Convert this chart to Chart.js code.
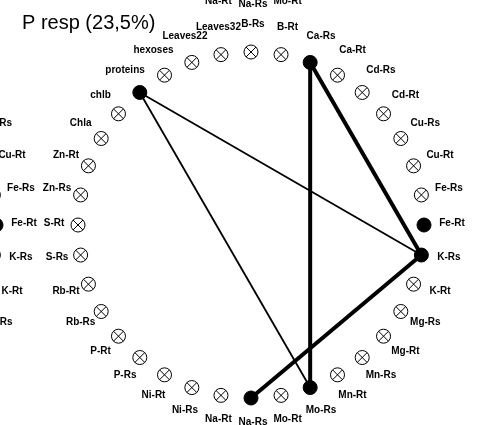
<!DOCTYPE html>
<html>
<head>
<meta charset="utf-8">
<script src="https://cdn.jsdelivr.net/npm/chart.js@4.4.1/dist/chart.umd.min.js"></script>
<style>
  html, body { margin: 0; padding: 0; background: #ffffff; }
  #wrap { width: 482px; height: 425px; position: relative; overflow: hidden; }
  canvas { display: block; }
</style>
</head>
<body>
<div id="wrap"><canvas id="chart" width="482" height="425"></canvas></div>
<script>
// Panel title
const panelTitle = 'P resp (23,5%)';

// Variables placed around the circle, clockwise from the top
const nodes = ['B-Rs', 'B-Rt', 'Ca-Rs', 'Ca-Rt', 'Cd-Rs', 'Cd-Rt', 'Cu-Rs', 'Cu-Rt',
  'Fe-Rs', 'Fe-Rt', 'K-Rs', 'K-Rt', 'Mg-Rs', 'Mg-Rt', 'Mn-Rs', 'Mn-Rt', 'Mo-Rs', 'Mo-Rt',
  'Na-Rs', 'Na-Rt', 'Ni-Rs', 'Ni-Rt', 'P-Rs', 'P-Rt', 'Rb-Rs', 'Rb-Rt', 'S-Rs', 'S-Rt',
  'Zn-Rs', 'Zn-Rt', 'Chla', 'chlb', 'proteins', 'hexoses', 'Leaves22', 'Leaves32'];

// Variables linked to P resp (filled markers)
const significant = ['Ca-Rs', 'Fe-Rt', 'K-Rs', 'Mo-Rs', 'Na-Rs', 'proteins'];

// Correlations between variables
const strongLinks = [['Ca-Rs', 'Mo-Rs'], ['Ca-Rs', 'K-Rs'], ['K-Rs', 'Na-Rs']];
const weakLinks = [['proteins', 'K-Rs'], ['proteins', 'Mo-Rs']];

// Neighbouring panels of the same figure (only their edges show)
const leftPanelSignificant = ['Fe-Rt'];
const topPanelSignificant = [];

// ---- layout (pixels) ----
const W = 482, H = 425;
const CX = 251, CY = 225, R = 173;          // node ring
const LABEL_R = 199, LABEL_DX = 2, LABEL_DY = -2;  // label ring
const STEP = 360 / nodes.length;
const panels = [
  { dx: 0, dy: 0, sig: significant, links: true },
  { dx: -428, dy: 0, sig: leftPanelSignificant, links: false },
  { dx: 0, dy: -418, sig: topPanelSignificant, links: false }
];

const DEG = Math.PI / 180;
function angleOf(name) { return (90 - nodes.indexOf(name) * STEP) * DEG; }
// node position in ring units (radius 1, y up), shifted by panel offset
function nodePos(name, p) {
  const a = angleOf(name);
  return { x: Math.cos(a) + p.dx / R, y: Math.sin(a) - p.dy / R };
}

const datasets = [];
panels.forEach(p => {
  const open = nodes.filter(n => !p.sig.includes(n)).map(n => nodePos(n, p));
  const filled = nodes.filter(n => p.sig.includes(n)).map(n => nodePos(n, p));
  datasets.push({ data: open, pointStyle: 'circle', pointRadius: 7, pointBackgroundColor: '#ffffff',
    pointBorderColor: '#000000', pointBorderWidth: 1, showLine: false, order: 1 });
  datasets.push({ data: open, pointStyle: 'crossRot', pointRadius: 7,
    pointBorderColor: '#000000', pointBorderWidth: 1, showLine: false, order: 0 });
  datasets.push({ data: filled, pointStyle: 'circle', pointRadius: 7, pointBackgroundColor: '#000000',
    pointBorderColor: '#000000', pointBorderWidth: 1, showLine: false, order: 0 });
  if (p.links) {
    strongLinks.forEach(([a, b]) => datasets.push({ data: [nodePos(a, p), nodePos(b, p)], showLine: true,
      borderColor: '#000000', borderWidth: 4, pointRadius: 0, order: 2 }));
    weakLinks.forEach(([a, b]) => datasets.push({ data: [nodePos(a, p), nodePos(b, p)], showLine: true,
      borderColor: '#000000', borderWidth: 1.8, pointRadius: 0, order: 2 }));
  }
});

// node names and panel title
const labelPlugin = {
  id: 'ringLabels',
  afterDatasetsDraw(chart) {
    const ctx = chart.ctx;
    const xs = chart.scales.x, ys = chart.scales.y;
    ctx.save();
    ctx.fillStyle = '#000000';
    ctx.font = 'bold 10px "Liberation Sans", Arial, sans-serif';
    ctx.textAlign = 'center';
    ctx.textBaseline = 'middle';
    panels.forEach(p => {
      nodes.forEach(n => {
        const a = angleOf(n);
        const k = LABEL_R / R;
        const ux = Math.cos(a) * k + (p.dx + LABEL_DX) / R;
        const uy = Math.sin(a) * k - (p.dy + LABEL_DY) / R;
        ctx.fillText(n, xs.getPixelForValue(ux), ys.getPixelForValue(uy));
      });
    });
    ctx.font = '20px "Liberation Sans", Arial, sans-serif';
    ctx.textAlign = 'left';
    ctx.textBaseline = 'alphabetic';
    ctx.fillText(panelTitle, 22, 29);
    ctx.restore();
  }
};

new Chart(document.getElementById('chart'), {
  type: 'scatter',
  data: { datasets },
  options: {
    responsive: false,
    animation: false,
    events: [],
    layout: { padding: 0, autoPadding: false },
    plugins: { legend: { display: false }, tooltip: { enabled: false }, title: { display: false } },
    scales: {
      x: { type: 'linear', display: false, min: -CX / R, max: (W - CX) / R },
      y: { type: 'linear', display: false, min: -(H - CY) / R, max: CY / R }
    }
  },
  plugins: [labelPlugin]
});
</script>
</body>
</html>
